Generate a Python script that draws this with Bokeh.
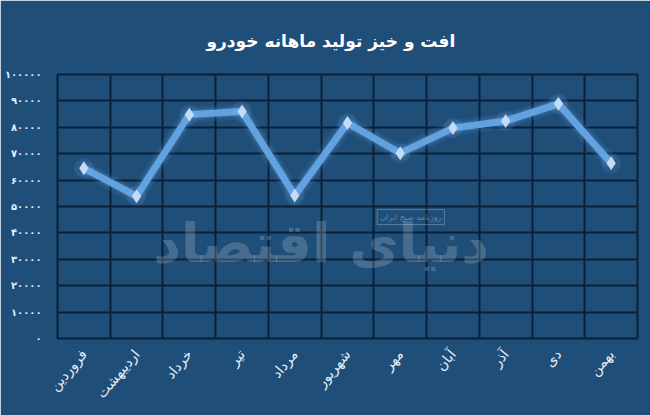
from bokeh.plotting import figure
from bokeh.models import FixedTicker, Range1d, ColumnDataSource, Label
from bokeh.embed import file_html
from bokeh.resources import INLINE
import math

months = ["فروردین", "اردیبهشت", "خرداد", "تیر", "مرداد", "شهریور",
          "مهر", "آبان", "آذر", "دی", "بهمن"]
production = [64500, 53900, 84800, 86000, 54200, 81600, 70200, 79700, 82400, 88900, 66400]
y_ticks = [0, 10000, 20000, 30000, 40000, 50000, 60000, 70000, 80000, 90000, 100000]

def fa_digits(n):
    return str(n).translate(str.maketrans("0123456789", "۰۱۲۳۴۵۶۷۸۹"))

xs = [i + 0.5 for i in range(len(months))]
src = ColumnDataSource(dict(x=xs, y=production, m=months))

BG = "#1f4e79"
GRID = "#0b2038"
FONT = "DejaVu Sans"

p = figure(width=650, height=415, output_backend="svg", toolbar_location=None,
           x_range=Range1d(0, len(months)), y_range=Range1d(0, 100000),
           background_fill_color=BG, border_fill_color=BG,
           min_border_left=57, min_border_right=13, min_border_top=74, min_border_bottom=77)

p.title.text = "افت و خیز تولید ماهانه خودرو"
p.title.text_font = FONT
p.title.text_font_size = "17px"
p.title.text_font_style = "bold"
p.title.text_color = "#ffffff"
p.title.align = "left"
p.title.offset = 149
p.title.standoff = 47

p.outline_line_color = GRID
p.outline_line_width = 2

# grids
p.xgrid.ticker = FixedTicker(ticks=list(range(len(months) + 1)))
p.xgrid.grid_line_color = GRID
p.xgrid.grid_line_width = 2
p.ygrid.ticker = FixedTicker(ticks=y_ticks)
p.ygrid.grid_line_color = GRID
p.ygrid.grid_line_width = 2

# axes
p.xaxis.ticker = FixedTicker(ticks=xs)
p.xaxis.major_label_overrides = {x: m for x, m in zip(xs, months)}
p.xaxis.major_label_orientation = math.radians(50)
p.xaxis.axis_line_color = None
p.xaxis.major_tick_line_color = None
p.xaxis.minor_tick_line_color = None
p.xaxis.major_label_text_color = "#e6edf5"
p.xaxis.major_label_text_font = FONT
p.xaxis.major_label_text_font_size = "14px"
p.xaxis.major_label_standoff = 7

p.yaxis.ticker = FixedTicker(ticks=y_ticks)
p.yaxis.major_label_overrides = {t: fa_digits(t) for t in y_ticks}
p.yaxis.axis_line_color = None
p.yaxis.major_tick_line_color = None
p.yaxis.minor_tick_line_color = None
p.yaxis.major_label_text_color = "#e6edf5"
p.yaxis.major_label_text_font = FONT
p.yaxis.major_label_text_font_size = "10px"
p.yaxis.major_label_text_font_style = "bold"
p.yaxis.major_label_standoff = 10

# watermark
wm = Label(x=5.0, y=36000, text="دنیای اقتصاد", text_font=FONT, text_font_size="54px",
           text_font_style="bold", text_color="#ffffff", text_alpha=0.18,
           text_align="center", text_baseline="middle")
p.add_layout(wm)
wm2 = Label(x=6.7, y=46000, text="روزنامه صبح ایران", text_font=FONT, text_font_size="8px",
            text_color="#ffffff", text_alpha=0.3, text_align="center", text_baseline="middle",
            border_line_color="#ffffff", border_line_alpha=0.25, padding=3)
p.add_layout(wm2)

# glow + line
p.line("x", "y", source=src, line_color="#6fb0f0", line_width=16, line_alpha=0.08, line_join="round")
p.line("x", "y", source=src, line_color="#6fb0f0", line_width=11, line_alpha=0.15, line_join="round")
p.line("x", "y", source=src, line_color="#62a2de", line_width=7, line_join="miter")
p.scatter("x", "y", source=src, marker="circle", size=20, fill_color="#7fc0ff", fill_alpha=0.12, line_color=None)
p.scatter("x", "y", source=src, marker="diamond", size=14, fill_color="#c3dbf4", line_color=None)

open("out.html", "w").write(file_html(p, INLINE))
